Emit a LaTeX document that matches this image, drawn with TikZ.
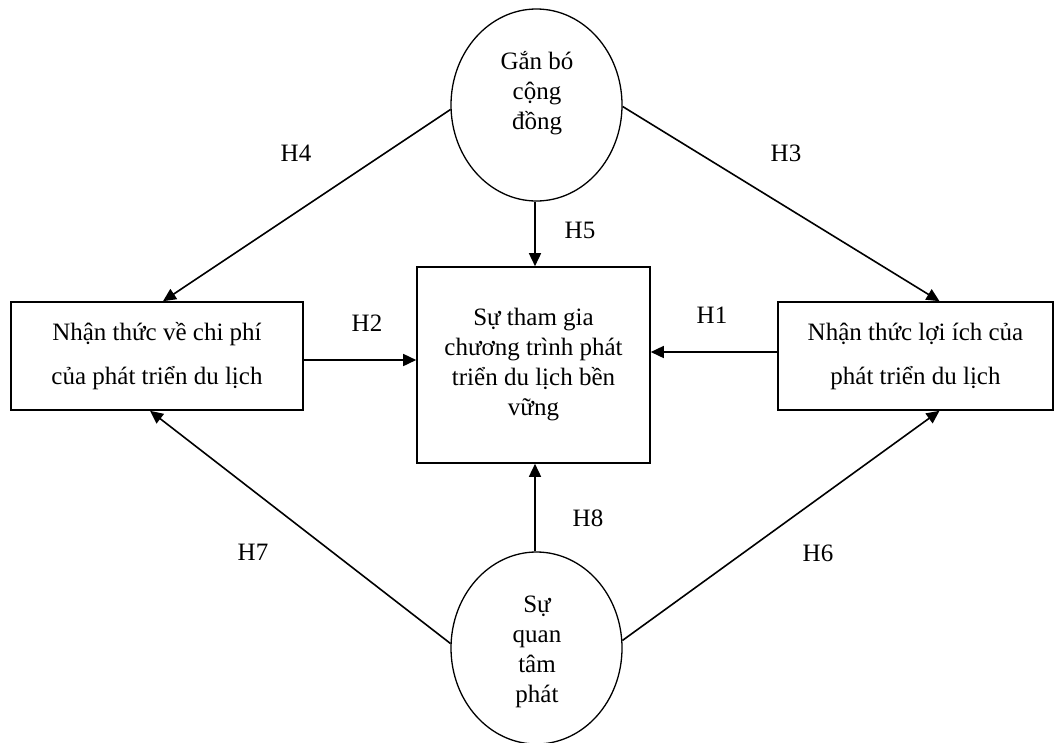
\documentclass[tikz,border=0pt]{standalone}
\usepackage{fontspec}
\setmainfont{Liberation Serif}
\usetikzlibrary{shapes.geometric,arrows.meta}
\begin{document}
\begin{tikzpicture}[x=1pt,y=-1pt,
  every node/.style={font=\fontsize{25}{30}\selectfont},
  boxnode/.style={draw,line width=1.6pt,inner sep=0pt,align=center},
  ovalnode/.style={draw,ellipse,line width=1.3pt,inner sep=0pt,minimum width=171pt,minimum height=192pt},
  txt/.style={align=center,inner sep=0pt},
  lbl/.style={inner sep=0pt},
  arr/.style={line width=1.6pt,-{Triangle[length=13pt,width=12pt]}}]
\useasboundingbox (0,0) rectangle (1064,742);
% nodes
\node[ovalnode] (gb) at (536.5,105) {};
\node[txt] (gbt) at (537,93) {Gắn bó\\cộng\\đồng};
\node[ovalnode] (qt) at (536.5,648) {};
\node[txt] (qtt) at (537,652) {Sự\\quan\\tâm\\phát};
\node[boxnode,minimum width=233pt,minimum height=196pt] (sp) at (533.5,365) {Sự tham gia\\chương trình phát\\triển du lịch bền\\vững};
\node[boxnode,minimum width=292pt,minimum height=108pt] (cp) at (157,356) {Nhận thức về chi phí\\[14pt]của phát triển du lịch};
\node[boxnode,minimum width=275pt,minimum height=108pt] (li) at (915.5,356) {Nhận thức lợi ích của\\[14pt]phát triển du lịch};
% connectors
\draw[arr] ([xshift=1.5pt]gb.south -| sp.north) -- ([xshift=1.5pt]sp.north);
\draw[arr] ([xshift=1.5pt]qt.north -| sp.south) -- ([xshift=1.5pt]sp.south);
\draw[arr] ([yshift=-4pt]cp.east) -- ([yshift=-4pt]cp.east -| sp.west);
\draw[arr] ([yshift=4pt]li.west) -- ([yshift=4pt]li.west -| sp.east);
\draw[arr] (gb.183) -- ([xshift=6pt]cp.north);
\draw[arr] (gb.-1) -- ([xshift=24pt]li.north);
\draw[arr] (qt.177) -- ([xshift=-7pt]cp.south);
\draw[arr] (qt.5) -- ([xshift=24pt]li.south);
% labels
\node[lbl] (h4) at (296,153) {H4};
\node[lbl] (h3) at (786,153) {H3};
\node[lbl] (h5) at (580,230) {H5};
\node[lbl] (h2) at (367,323) {H2};
\node[lbl] (h1) at (712,315) {H1};
\node[lbl] (h8) at (588,518) {H8};
\node[lbl] (h7) at (253,552) {H7};
\node[lbl] (h6) at (818,553) {H6};
\end{tikzpicture}
\end{document}
